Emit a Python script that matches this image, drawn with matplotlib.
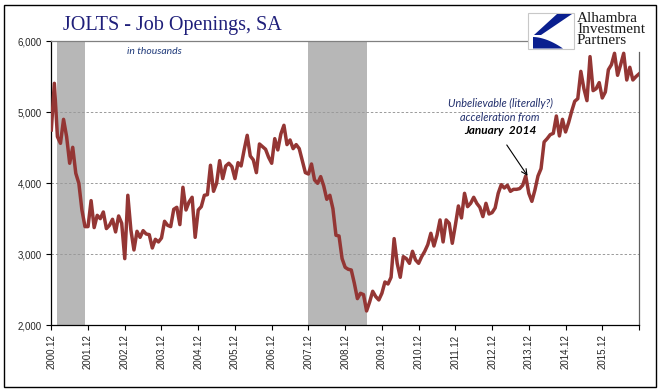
"""JOLTS job openings chart with recession shading and firm logo."""

import matplotlib.pyplot as plt
import numpy as np
import pandas as pd
from matplotlib.patches import Polygon, Rectangle

# monthly job openings, thousands, SA, starting Dec 2000
START_MONTH = "2000-12"
OPENINGS = [
    4751, 5408, 4657, 4563, 4901, 4657, 4282, 4507, 4141, 4000,
    3624, 3390, 3390, 3756, 3376, 3549, 3502, 3596, 3362, 3408,
    3493, 3315, 3540, 3437, 2939, 3831, 3343, 3061, 3324, 3239,
    3333, 3286, 3277, 3089, 3211, 3174, 3230, 3465, 3408, 3390,
    3634, 3662, 3418, 3944, 3624, 3737, 3803, 3239, 3624, 3671,
    3831, 3840, 4254, 3887, 4000, 4319, 4066, 4244, 4282, 4235,
    4066, 4291, 4244, 4470, 4676, 4385, 4329, 4150, 4554, 4516,
    4479, 4366, 4282, 4629, 4470, 4695, 4817, 4545, 4610, 4488,
    4545, 4488, 4319, 4150, 4131, 4272, 4047, 4000, 4094, 3962,
    3775, 3831, 3643, 3268, 3258,
    2939, 2817, 2789, 2779, 2592, 2376, 2451, 2432, 2202,
    2329, 2479, 2404, 2357, 2451, 2610, 2582, 2676, 3221, 2873,
    2676, 2967, 2939, 2873, 3042, 2920, 2873, 2967, 3042, 3136,
    3296, 3117, 3268, 3484, 3174, 3484, 3437, 3155, 3408, 3681,
    3512, 3859, 3671, 3718, 3803, 3718, 3662, 3531, 3718, 3568,
    3587, 3653, 3859, 3981, 3934, 3972, 3887, 3915, 3915, 3925,
    3972, 4103, 3859, 3746, 3906, 4103, 4207, 4582, 4629, 4685,
    4704, 4948, 4667, 4901, 4723, 4854, 5014, 5155, 5192, 5577,
    5333, 5164, 5784, 5305, 5333, 5418, 5202, 5286, 5600, 5671,
    5831, 5521, 5671, 5831, 5455, 5634, 5455, 5502, 5540,
]

# recession bands as shaded in the source chart
RECESSION_START = ["2001-02", "2007-12"]
RECESSION_END = ["2001-11", "2009-07"]

Y_TICKS = [2000, 3000, 4000, 5000, 6000]
GRID_LEVELS = [3000, 4000, 5000]

LINE_COLOR = "#943634"
SHADE_COLOR = "#b7b7b7"
NAVY = "#1f1f7a"

W, H = 669, 392


def px(x, y):
    """Pixel position (from top-left) to figure fraction."""
    return x / W, 1 - y / H


def month_index(months, label):
    return (pd.Period(label, freq="M") - months[0]).n


def draw_logo(fig):
    """Rough sketch of the Alhambra Investment Partners badge."""
    x0, y0 = px(528, 49)
    x1, y1 = px(574, 13)
    fig.patches.append(Rectangle((x0, y0), x1 - x0, y1 - y0, transform=fig.transFigure,
                                 facecolor="white", edgecolor="#c8c8c8", lw=0.8, zorder=5))
    band = [px(572, 14), px(557, 14), px(534, 35), px(541, 35)]
    fig.patches.append(Polygon(band, closed=True, transform=fig.transFigure,
                               facecolor="#0a1f8f", edgecolor="none", zorder=6))
    t = np.linspace(0, 1, 20)
    arc = [px(533 + 30 * s, 37 + 11.5 * s ** 1.8) for s in t]
    crescent = arc + [px(563, 48.5), px(533, 48.5)]
    fig.patches.append(Polygon(crescent, closed=True, transform=fig.transFigure,
                               facecolor="#0a1f8f", edgecolor="none", zorder=6))
    tx, ty = px(577, 12)
    fig.text(tx, ty, "Alhambra\nInvestment\nPartners", family="Liberation Serif",
             size=11, color="#1a1a1a", va="top", ha="left", linespacing=0.82, zorder=7)


def main():
    months = pd.period_range(START_MONTH, periods=len(OPENINGS), freq="M")
    x = np.arange(len(OPENINGS))
    last = len(OPENINGS) - 1

    fig = plt.figure(figsize=(W / 100, H / 100), dpi=100)
    left, top = px(51.3, 41.3)
    right, bottom = px(639, 325.3)
    ax = fig.add_axes([left, bottom, right - left, top - bottom])
    ax.set_xlim(0, last)
    ax.set_ylim(2000, 6000)

    for start, end in zip(RECESSION_START, RECESSION_END):
        ax.axvspan(month_index(months, start), month_index(months, end),
                   color=SHADE_COLOR, lw=0, zorder=0)
    for level in GRID_LEVELS:
        ax.axhline(level, color="#9a9a9a", lw=0.7, ls=(0, (2.5, 2)), zorder=1)

    ax.plot(x, OPENINGS, color=LINE_COLOR, lw=2.5, solid_joinstyle="round", zorder=3)

    # axes frame: black left/bottom, grey top/right cut short by the logo
    for side in ("left", "bottom"):
        ax.spines[side].set_color("black")
        ax.spines[side].set_linewidth(0.9)
    ax.spines["top"].set_color("#808080")
    ax.spines["top"].set_linewidth(0.9)
    ax.spines["top"].set_bounds(0, 155.7)
    ax.spines["right"].set_color("#606060")
    ax.spines["right"].set_linewidth(0.9)
    ax.spines["right"].set_bounds(2000, 5850)

    tick_pos = list(range(0, last + 1, 12))
    tick_lab = [f"{m.year}.{m.month:02d}" for m in months[::12]]
    if tick_pos[-1] != last:
        tick_pos.append(last)
    tick_lab = tick_lab[:16] + [""] * (len(tick_pos) - 16)
    ax.set_xticks(tick_pos)
    ax.set_xticklabels(tick_lab, rotation=90, family="Liberation Sans", size=7, color="#262626")
    ax.set_yticks(Y_TICKS)
    ax.set_yticklabels([f"{v:,}" for v in Y_TICKS], family="Liberation Sans", size=7,
                       color="#262626")
    ax.tick_params(axis="both", direction="out", length=3.6, width=0.8, pad=3)

    tx, ty = px(63, 30)
    fig.text(tx, ty, "JOLTS - Job Openings, SA", family="Liberation Serif", size=14.5,
             color=NAVY, va="baseline", ha="left")
    tx, ty = px(127, 51)
    fig.text(tx, ty, "in thousands", family="Lato", style="italic", size=7.5,
             color="#1f3a7a", va="center", ha="left")

    cx = 500
    for text, y, weight, size, color in [
        ("Unbelievable (literally?)", 103, "normal", 7.8, "#1f2d6b"),
        ("acceleration from", 117, "normal", 7.8, "#1f2d6b"),
        ("January  2014", 130, "bold", 8.5, "black"),
    ]:
        tx, ty = px(cx, y)
        fig.text(tx, ty, text, family="Lato", style="italic", weight=weight, size=size,
                 color=color, ha="center", va="center")
    ax.annotate("", xy=(155.6, 4105), xytext=(148.8, 4540),
                arrowprops=dict(arrowstyle="->", color="black", lw=0.8,
                                shrinkA=0, shrinkB=0))

    draw_logo(fig)

    fx, fy = px(4, 387)
    fx1, fy1 = px(656, 5)
    fig.patches.append(Rectangle((fx, fy), fx1 - fx, fy1 - fy, transform=fig.transFigure,
                                 fill=False, edgecolor="black", lw=1.0))

    fig.savefig("out.png", dpi=100)
    plt.close(fig)


if __name__ == "__main__":
    main()
